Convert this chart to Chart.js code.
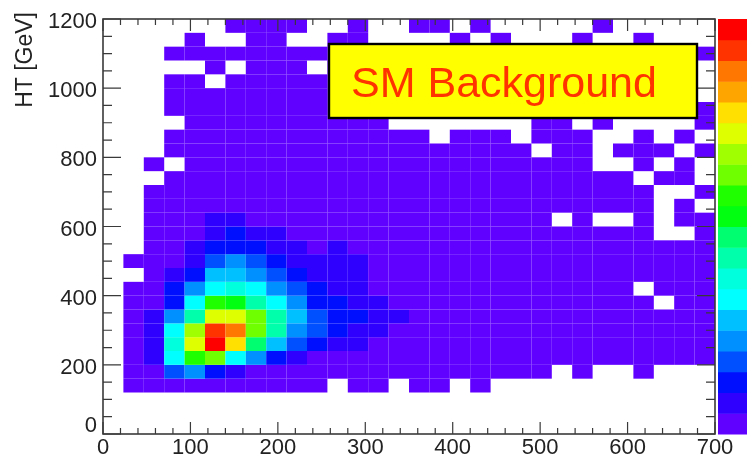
<!DOCTYPE html>
<html>
<head>
<meta charset="utf-8">
<script src="https://cdn.jsdelivr.net/npm/chart.js@4.4.1/dist/chart.umd.min.js"></script>
<style>
    html, body { margin: 0; padding: 0; background: #fff; }
</style>
</head>
<body>
<canvas id="chart" width="747" height="464"></canvas>
<script>
// Histogram binning (30 x 30 bins)
const xMin = 0, xMax = 700, nBinsX = 30;
const yMin = 0, yMax = 1200, nBinsY = 30;
const zMax = 20;

// Axis tick labels
const xTickValues = [0, 100, 200, 300, 400, 500, 600, 700];
const yTickValues = [0, 200, 400, 600, 800, 1000, 1200];

// Bin contents, one array per HT row (row j covers HT 40*j .. 40*j+40), 0 = empty
const row00 = [0,0,0,0,0,0,0,0,0,0,0,0,0,0,0,0,0,0,0,0,0,0,0,0,0,0,0,0,0,0];
const row01 = [0,0,0,0,0,0,0,0,0,0,0,0,0,0,0,0,0,0,0,0,0,0,0,0,0,0,0,0,0,0];
const row02 = [0,0,0,0,0,0,0,0,0,0,0,0,0,0,0,0,0,0,0,0,0,0,0,0,0,0,0,0,0,0];
const row03 = [0,1,1,1,1,1,1,1,1,1,1,0,1,1,0,1,1,0,1,0,0,0,0,0,0,0,0,0,0,0];
const row04 = [0,1,1,4,5,3,2,1,1,1,1,1,1,1,1,1,1,1,1,1,1,1,0,1,0,0,1,0,0,0];
const row05 = [0,1,2,7,12,13,7,5,3,2,1,1,1,1,1,1,1,1,1,1,1,1,1,1,1,1,1,1,1,1];
const row06 = [0,1,2,8,15,20,16,10,6,4,3,2,2,1,1,1,1,1,1,1,1,1,1,1,1,1,1,1,1,1];
const row07 = [0,1,2,7,14,19,18,13,9,5,4,3,2,2,1,1,1,1,1,1,1,1,1,1,1,1,1,1,1,1];
const row08 = [0,1,2,5,9,15,15,13,9,6,4,3,3,2,2,1,1,1,1,1,1,1,1,1,1,1,1,1,1,1];
const row09 = [0,1,1,3,7,12,11,9,7,5,3,3,2,2,1,1,1,1,1,1,1,1,1,1,1,1,1,0,1,1];
const row10 = [0,1,1,3,5,7,8,7,5,4,3,2,2,1,1,1,1,1,1,1,1,1,1,1,1,1,0,1,1,1];
const row11 = [0,0,1,2,3,6,6,5,4,3,2,2,2,1,1,1,1,1,1,1,1,1,1,1,1,1,1,1,1,1];
const row12 = [0,1,1,1,2,4,5,4,3,2,2,2,2,1,1,1,1,1,1,1,1,1,1,1,1,1,1,1,1,1];
const row13 = [0,0,1,1,2,3,3,3,2,2,1,2,1,1,1,1,1,1,1,1,1,1,1,1,1,1,1,1,1,1];
const row14 = [0,0,1,1,1,2,3,2,2,1,1,1,1,1,1,1,1,1,1,1,1,1,1,1,1,1,1,0,0,1];
const row15 = [0,0,1,1,1,2,2,1,1,1,1,1,1,1,1,1,1,1,1,1,1,1,0,1,0,0,1,0,1,1];
const row16 = [0,0,1,1,1,1,1,1,1,1,1,1,1,1,1,1,1,1,1,1,1,1,1,1,1,1,1,0,1,0];
const row17 = [0,0,1,1,1,1,1,1,1,1,1,1,1,1,1,1,1,1,1,1,1,1,1,1,1,1,1,0,0,1];
const row18 = [0,0,0,1,1,1,1,1,1,1,1,1,1,1,1,1,1,1,1,1,1,1,1,1,1,1,0,1,1,0];
const row19 = [0,0,1,0,1,1,1,1,1,1,1,1,1,1,1,1,1,1,1,1,1,1,1,1,0,0,1,0,1,0];
const row20 = [0,0,0,1,1,1,1,1,1,1,1,1,1,1,1,1,1,1,1,1,1,0,1,1,0,1,1,1,0,1];
const row21 = [0,0,0,1,1,1,1,1,1,1,1,1,1,1,1,1,0,1,1,1,0,1,1,1,0,0,1,0,1,0];
const row22 = [0,0,0,0,1,1,1,1,1,1,1,1,1,1,0,0,0,0,0,0,0,1,1,0,1,0,0,0,0,1];
const row23 = [0,0,0,1,1,1,1,1,1,1,1,1,1,1,1,1,1,1,1,1,1,1,1,1,1,1,1,1,1,1];
const row24 = [0,0,0,1,1,1,1,1,1,1,1,1,1,1,1,1,1,1,1,1,1,1,1,1,1,1,1,1,1,0];
const row25 = [0,0,0,1,1,0,1,1,1,1,1,1,1,1,1,1,1,1,1,1,1,1,1,1,1,1,1,1,1,0];
const row26 = [0,0,0,0,0,1,0,1,1,1,0,1,1,1,1,1,1,1,1,1,1,1,1,1,1,1,1,1,1,0];
const row27 = [0,0,0,1,1,1,1,1,1,1,1,1,1,1,1,1,1,1,1,1,1,1,1,1,1,1,1,1,1,1];
const row28 = [0,0,0,0,1,0,0,1,1,0,0,1,1,0,0,0,0,1,0,1,0,0,0,1,0,0,1,0,0,0];
const row29 = [0,0,0,0,0,0,1,1,1,1,0,0,1,0,0,1,1,0,1,0,0,0,0,0,1,0,0,0,0,0];

const zRows = [row00, row01, row02, row03, row04, row05, row06, row07, row08, row09,
               row10, row11, row12, row13, row14, row15, row16, row17, row18, row19,
               row20, row21, row22, row23, row24, row25, row26, row27, row28, row29];

// 20-level rainbow palette, lowest level first
const palette = ['#6000ff', '#3000ff', '#0010ff', '#0050ff', '#0090ff',
                 '#00c0ff', '#00ffff', '#00ffdd', '#00ffaa', '#00ff70',
                 '#00ff10', '#20ff00', '#70ff00', '#a0ff00', '#ddff00',
                 '#ffe000', '#ffa500', '#ff7700', '#ff3300', '#ff0000'];

const binW = (xMax - xMin) / nBinsX;
const binH = (yMax - yMin) / nBinsY;

function cellColour(z) {
    const k = Math.min(palette.length - 1, Math.ceil(z / zMax * palette.length) - 1);
    return palette[Math.max(0, k)];
}

// One point per filled bin, placed at the bin centre
const cells = [];
zRows.forEach((row, j) => {
    row.forEach((z, i) => {
        if (z > 0) {
            cells.push({ x: xMin + (i + 0.5) * binW, y: yMin + (j + 0.5) * binH, z: z });
        }
    });
});

const fontFamily = '"Liberation Sans", Arial, Helvetica, sans-serif';
Chart.defaults.font.family = fontFamily;

// Fills each bin as a rectangle spanning its edges on the x/y scales
const colzCells = {
    id: 'colzCells',
    beforeDatasetsDraw(chart) {
        const { ctx, scales: { x, y } } = chart;
        ctx.save();
        chart.data.datasets[0].data.forEach(c => {
            const l = x.getPixelForValue(c.x - binW / 2);
            const r = x.getPixelForValue(c.x + binW / 2);
            const t = y.getPixelForValue(c.y + binH / 2);
            const b = y.getPixelForValue(c.y - binH / 2);
            ctx.fillStyle = cellColour(c.z);
            ctx.fillRect(l, t, r - l, b - t);
        });
        ctx.restore();
    }
};

// Frame and inward ticks on all four sides
const frameTicks = {
    id: 'frameTicks',
    afterDatasetsDraw(chart) {
        const { ctx, chartArea: a, scales: { x, y } } = chart;
        ctx.save();
        ctx.strokeStyle = '#3a3a3a';
        ctx.lineWidth = 1.2;
        ctx.beginPath();
        for (let v = xMin; v <= xMax; v += 20) {
            const px = x.getPixelForValue(v);
            const len = v % 100 === 0 ? 12 : 6;
            ctx.moveTo(px, a.bottom); ctx.lineTo(px, a.bottom - len);
            ctx.moveTo(px, a.top); ctx.lineTo(px, a.top + len);
        }
        for (let v = yMin; v <= yMax; v += 50) {
            const py = y.getPixelForValue(v);
            const len = v % 200 === 0 ? 18 : 9;
            ctx.moveTo(a.left, py); ctx.lineTo(a.left + len, py);
            ctx.moveTo(a.right, py); ctx.lineTo(a.right - len, py);
        }
        ctx.stroke();
        ctx.lineWidth = 1.6;
        ctx.strokeRect(a.left, a.top, a.right - a.left, a.bottom - a.top);
        ctx.restore();
    },
    afterDraw(chart) {
        const { ctx, chartArea: a } = chart;
        ctx.save();

        // colour scale on the right
        const bandH = (a.bottom - a.top) / palette.length;
        palette.forEach((col, k) => {
            ctx.fillStyle = col;
            ctx.fillRect(a.right + 3, a.bottom - (k + 1) * bandH, 40, bandH + 0.5);
        });

        // y axis title, right-aligned to the top
        ctx.translate(32, 12);
        ctx.rotate(-Math.PI / 2);
        ctx.fillStyle = '#222';
        ctx.font = '23px ' + fontFamily;
        ctx.textAlign = 'right';
        ctx.textBaseline = 'alphabetic';
        ctx.fillText('HT [GeV]', 0, 0);
        ctx.setTransform(1, 0, 0, 1, 0, 0);

        // legend box
        ctx.fillStyle = '#ffff00';
        ctx.fillRect(329, 44, 368, 74);
        ctx.strokeStyle = '#000';
        ctx.lineWidth = 2.4;
        ctx.strokeRect(329, 44, 368, 74);
        ctx.fillStyle = '#ff3300';
        ctx.font = '43px ' + fontFamily;
        ctx.textAlign = 'left';
        ctx.fillText('SM Background', 351, 97);
        ctx.restore();
    }
};

const ctx = document.getElementById('chart').getContext('2d');

const config = {
    type: 'scatter',
    data: {
        datasets: [{
            label: 'SM Background',
            data: cells,
            pointRadius: 0,
            pointHoverRadius: 0
        }]
    },
    options: {
        responsive: false,
        animation: false,
        layout: { padding: { top: 19, right: 32, left: 0, bottom: 0 } },
        plugins: {
            legend: { display: false },
            tooltip: { enabled: false }
        },
        scales: {
            x: {
                type: 'linear',
                min: xMin,
                max: xMax,
                grid: { display: false, drawTicks: false },
                border: { display: false },
                afterBuildTicks: s => { s.ticks = xTickValues.map(v => ({ value: v })); },
                afterFit: s => { s.height = 30; },
                ticks: {
                    color: '#222',
                    padding: 1,
                    maxRotation: 0,
                    autoSkip: false,
                    font: { size: 22 }
                }
            },
            y: {
                type: 'linear',
                min: yMin,
                max: yMax,
                grid: { display: false, drawTicks: false },
                border: { display: false },
                afterBuildTicks: s => { s.ticks = yTickValues.map(v => ({ value: v })); },
                afterFit: s => { s.width = 103; },
                ticks: {
                    color: '#222',
                    padding: 6,
                    labelOffset: 3,
                    autoSkip: false,
                    font: { size: 22, lineHeight: 1.05 },
                    // the zero label sits a half line higher, clear of the x axis zero
                    callback: v => v === 0 ? ['0', ''] : String(v)
                }
            }
        }
    },
    plugins: [colzCells, frameTicks]
};

const colzChart = new Chart(ctx, config);
</script>
</body>
</html>
